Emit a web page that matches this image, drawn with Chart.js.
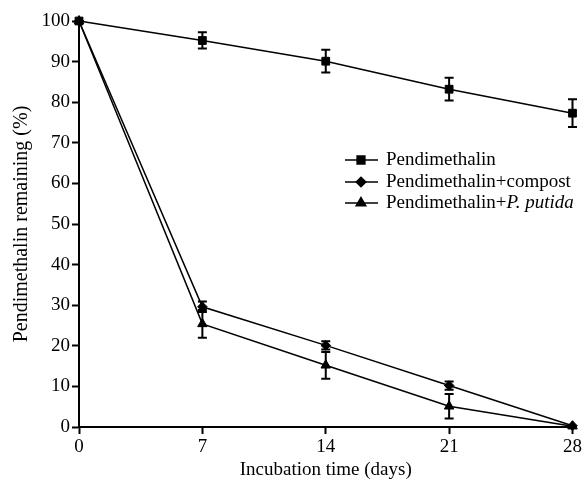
<!DOCTYPE html>
<html>
<head>
<meta charset="utf-8">
<script src="https://cdn.jsdelivr.net/npm/chart.js@4.4.0/dist/chart.umd.min.js"></script>
<style>
html,body{margin:0;padding:0;background:#fff;}
canvas{display:block;}
</style>
</head>
<body>
<canvas id="c" width="584" height="485"></canvas>
<script>
const days = [0, 7, 14, 21, 28];
const pendimethalin = [100, 95.2, 90.1, 83.2, 77.3];
const pendimethalinErr = [0, 2.0, 2.8, 2.8, 3.4];
const compost = [100, 29.6, 20.1, 10.2, 0.3];
const compostErr = [0, 1.3, 1.0, 1.0, 0];
const putida = [100, 25.4, 15.2, 5.1, 0.2];
const putidaErr = [0, 3.4, 3.3, 3.0, 0];
const xTicks = [0, 7, 14, 21, 28];
const yTicks = [0, 10, 20, 30, 40, 50, 60, 70, 80, 90, 100];
const seriesNames = ['Pendimethalin', 'Pendimethalin+compost', 'Pendimethalin+'];
const seriesItalic = ['', '', 'P. putida'];
const markerStyles = ['rect', 'rectRot', 'triangle'];

const FONT = '"Liberation Serif", "Times New Roman", serif';

function pts(vals){ return days.map((d,i)=>({x:d, y:vals[i]})); }

const errorBars = {
  id: 'errorBars',
  afterDatasetsDraw(chart){
    const ctx = chart.ctx;
    const xs = chart.scales.x, ys = chart.scales.y;
    ctx.save();
    ctx.strokeStyle = '#000';
    ctx.lineWidth = 2;
    chart.data.datasets.forEach(ds => {
      const errs = ds.errors;
      ds.data.forEach((p, i) => {
        const e = errs[i];
        if (!e) return;
        const px = xs.getPixelForValue(p.x);
        const top = ys.getPixelForValue(p.y + e);
        const bot = ys.getPixelForValue(p.y - e);
        ctx.beginPath();
        ctx.moveTo(px, top); ctx.lineTo(px, bot);
        ctx.moveTo(px - 4.5, top); ctx.lineTo(px + 4.5, top);
        ctx.moveTo(px - 4.5, bot); ctx.lineTo(px + 4.5, bot);
        ctx.stroke();
      });
    });
    ctx.restore();
  }
};

const customLegend = {
  id: 'customLegend',
  afterDraw(chart){
    const ctx = chart.ctx;
    ctx.save();
    const rows = [160, 182, 203];
    chart.data.datasets.forEach((ds, i) => {
      const y = rows[i];
      ctx.strokeStyle = '#000';
      ctx.lineWidth = 1.5;
      ctx.beginPath(); ctx.moveTo(345, y); ctx.lineTo(378, y); ctx.stroke();
      ctx.fillStyle = '#000';
      Chart.helpers.drawPoint(ctx, {pointStyle: ds.pointStyle, radius: ds.pointRadius, borderWidth: 1}, 361, y);
      ctx.fillStyle = '#000';
      ctx.textBaseline = 'middle';
      ctx.textAlign = 'left';
      ctx.font = '19px ' + FONT;
      ctx.fillText(seriesNames[i], 386, y);
      if (seriesItalic[i]) {
        const w = ctx.measureText(seriesNames[i]).width;
        ctx.font = 'italic 19px ' + FONT;
        ctx.fillText(seriesItalic[i], 386 + w, y);
      }
    });
    ctx.restore();
  }
};

const mk = (label, vals, errs, style, r) => ({
  label, data: pts(vals), errors: errs,
  borderColor: '#000', backgroundColor: '#000', borderWidth: 1.5,
  pointStyle: style, pointRadius: r, pointHoverRadius: r,
  pointBackgroundColor: '#000', pointBorderColor: '#000', pointBorderWidth: 1,
  tension: 0, clip: false
});

new Chart(document.getElementById('c'), {
  type: 'line',
  data: {
    datasets: [
      mk(seriesNames[0], pendimethalin, pendimethalinErr, markerStyles[0], 5.5),
      mk(seriesNames[1] , compost, compostErr, markerStyles[1], 4.8),
      mk(seriesNames[2] + seriesItalic[2], putida, putidaErr, markerStyles[2], 5.5)
    ]
  },
  options: {
    responsive: false,
    animation: false,
    events: [],
    layout: { padding: { top: 21, right: 11, left: 0, bottom: 0 } },
    plugins: { legend: { display: false }, tooltip: { enabled: false } },
    scales: {
      x: {
        type: 'linear', min: 0, max: 28,
        afterBuildTicks(s){ s.ticks = xTicks.map(v => ({value: v})); },
        afterFit(s){ s.height = 58; },
        border: { display: true, color: '#000', width: 2 },
        grid: { display: true, drawOnChartArea: false, drawTicks: true, tickLength: 7, tickWidth: 2, color: '#000' },
        ticks: { color: '#000', font: { family: FONT, size: 19 }, padding: 2, maxRotation: 0 },
        title: { display: true, text: 'Incubation time (days)', color: '#000', font: { family: FONT, size: 19 }, padding: { top: 0, bottom: 4 } }
      },
      y: {
        type: 'linear', min: 0, max: 100,
        afterBuildTicks(s){ s.ticks = yTicks.map(v => ({value: v})); },
        afterFit(s){ s.width = 79; },
        border: { display: true, color: '#000', width: 2 },
        grid: { display: true, drawOnChartArea: false, drawTicks: true, tickLength: 7, tickWidth: 2, color: '#000' },
        ticks: { color: '#000', font: { family: FONT, size: 19 }, padding: 2 },
        title: { display: true, text: 'Pendimethalin remaining (%)', color: '#000', font: { family: FONT, size: 20 }, padding: { top: 10, bottom: 0 } }
      }
    }
  },
  plugins: [errorBars, customLegend]
});
</script>
</body>
</html>
